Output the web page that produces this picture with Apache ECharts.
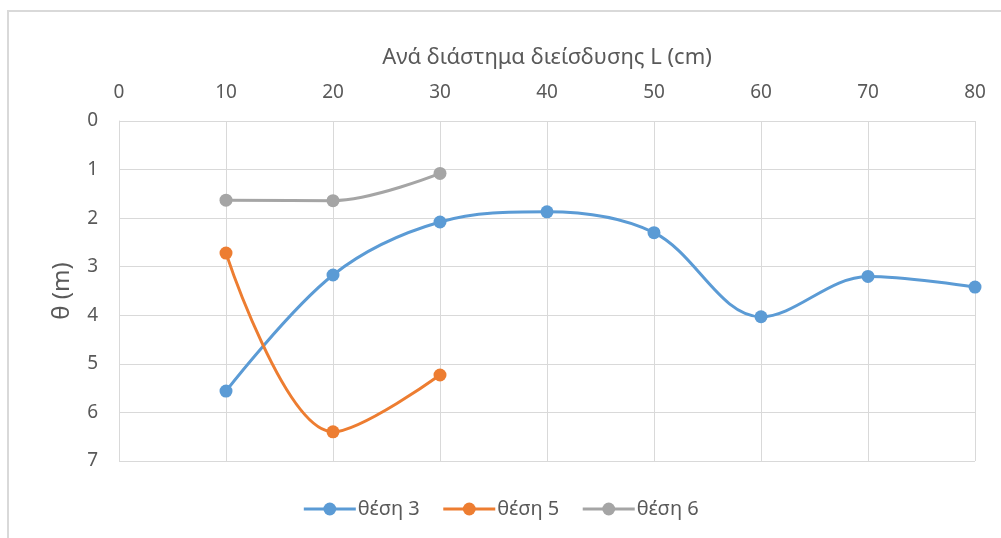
<!DOCTYPE html>
<html>
<head>
<meta charset="utf-8">
<script src="https://cdn.jsdelivr.net/npm/echarts@6/dist/echarts.min.js"></script>
<style>
html,body{margin:0;padding:0;background:#fff;overflow:hidden;}
#frame{position:absolute;left:7px;top:10px;width:1010px;height:540px;border:2px solid #d9d9d9;box-sizing:border-box;}
#chart{position:absolute;left:0;top:0;width:1001px;height:538px;}
</style>
</head>
<body>
<div id="frame"></div>
<div id="chart"></div>
<script>
const xTitle = 'Ανά διάστημα διείσδυσης L (cm)';
const yTitle = 'θ (m)';
const seriesNames = ['θέση 3', 'θέση 5', 'θέση 6'];
const xValues3 = [10, 20, 30, 40, 50, 60, 70, 80];
const theta3 = [5.56, 3.17, 2.08, 1.87, 2.30, 4.03, 3.20, 3.42];
const xValues5 = [10, 20, 30];
const theta5 = [2.72, 6.40, 5.23];
const xValues6 = [10, 20, 30];
const theta6 = [1.63, 1.64, 1.08];
const colors = ['#5B9BD5', '#ED7D31', '#A5A5A5'];

const font = '"Noto Sans", "Open Sans", sans-serif';
function pairs(xs, ys){ return xs.map((x,i)=>[x, ys[i]]); }
const dataSets = [pairs(xValues3, theta3), pairs(xValues5, theta5), pairs(xValues6, theta6)];

const chart = echarts.init(document.getElementById('chart'), null, {renderer:'canvas'});
chart.setOption({
  animation:false,
  color: colors,
  grid:{left:119, right:26, top:121, bottom:77},
  xAxis:{
    type:'value', position:'top', min:0, max:80, interval:10,
    name:xTitle, nameLocation:'middle', nameGap:52,
    nameTextStyle:{color:'#595959', fontSize:22, fontFamily:font},
    axisLine:{show:false}, axisTick:{show:false},
    axisLabel:{color:'#595959', fontSize:19, fontFamily:font, margin:19},
    splitLine:{show:true, lineStyle:{color:'#d9d9d9', width:1}}
  },
  yAxis:{
    type:'value', inverse:true, min:0, max:7, interval:1,
    name:yTitle, nameLocation:'middle', nameGap:45, nameRotate:90,
    nameTextStyle:{color:'#595959', fontSize:24, fontFamily:font},
    axisLine:{show:true, lineStyle:{color:'#d9d9d9', width:1}}, axisTick:{show:false},
    axisLabel:{color:'#595959', fontSize:19, fontFamily:font, margin:21},
    splitLine:{show:true, lineStyle:{color:'#d9d9d9', width:1}}
  },
  legend:{
    top:494, left:'center', itemGap:22, itemWidth:52, itemHeight:16,
    lineStyle:{width:3},
    textStyle:{color:'#595959', fontSize:20, fontFamily:font, padding:[0,0,0,-3]},
    data:seriesNames
  },
  series: seriesNames.map((n,i)=>({
    name:n, type:'line', smooth:0.35, data:dataSets[i],
    symbol:'circle', symbolSize:13,
    lineStyle:{width:3, color:colors[i]},
    itemStyle:{color:colors[i]}
  }))
});
</script>
</body>
</html>
